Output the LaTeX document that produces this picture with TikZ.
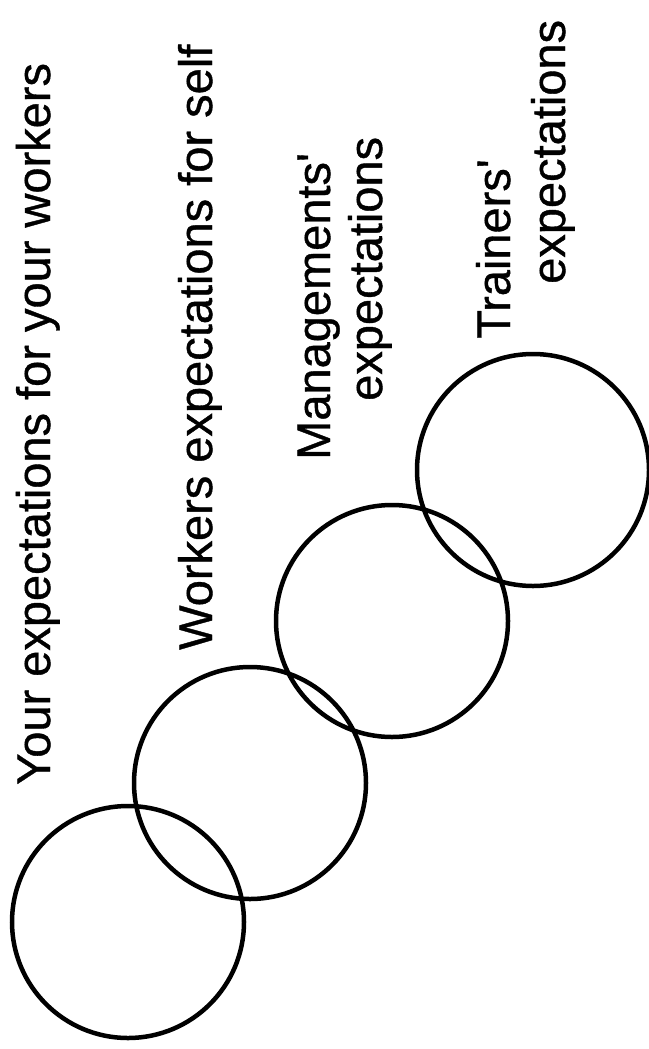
\documentclass[tikz,border=0pt]{standalone}
\usepackage{fontspec}
\setmainfont{Liberation Sans}[FakeBold=0.8]
\begin{document}
\begin{tikzpicture}[x=1pt,y=-1pt,
  ring/.style={circle,draw=black,line width=4.5pt,minimum size=232pt,inner sep=0pt},
  lbl/.style={rotate=90,anchor=base west,inner sep=0pt,font=\fontsize{47}{52}\selectfont}]
\useasboundingbox (0,0) rectangle (648,1049);
\node[ring] (c1) at (128,922) {};
\node[ring] (c2) at (250,783) {};
\node[ring] (c3) at (392,621) {};
\node[ring] (c4) at (533,470) {};
\node[lbl] (t1) at (50,785) {Your expectations for your workers};
\node[lbl] (t2) at (212,650) {Workers expectations for self};
\node[lbl] (t3a) at (330,460) {Managements\textquotesingle};
\node[lbl] (t3b) at (382,401) {expectations};
\node[lbl] (t4a) at (510,339) {Trainers\textquotesingle};
\node[lbl] (t4b) at (565,284) {expectations};
\end{tikzpicture}
\end{document}
